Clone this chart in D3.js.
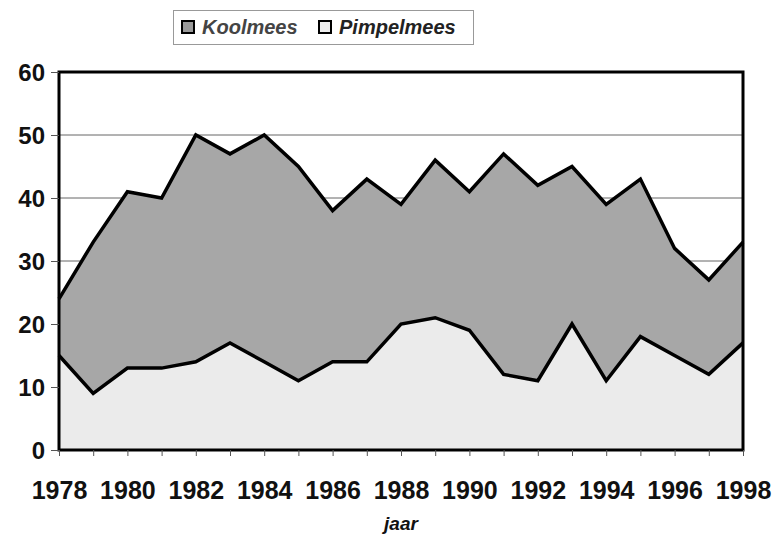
<!DOCTYPE html>
<html>
<head>
<meta charset="utf-8">
<script src="https://cdn.jsdelivr.net/npm/d3@7"></script>
<style>
    body { margin: 0; background: #fff; }
    text { font-family: "Liberation Sans", Arial, sans-serif; }
</style>
</head>
<body>
<div class="chart"></div>
<script>
let svgWidth = 774;
let svgHeight = 535;

let margin = { top: 72, right: 31, bottom: 85, left: 59 };

let width = svgWidth - margin.left - margin.right;
let height = svgHeight - margin.top - margin.bottom;

// data
let years = [1978, 1979, 1980, 1981, 1982, 1983, 1984, 1985, 1986, 1987, 1988,
    1989, 1990, 1991, 1992, 1993, 1994, 1995, 1996, 1997, 1998];
let koolmees = [24, 33, 41, 40, 50, 47, 50, 45, 38, 43, 39,
    46, 41, 47, 42, 45, 39, 43, 32, 27, 33];
let pimpelmees = [15, 9, 13, 13, 14, 17, 14, 11, 14, 14, 20,
    21, 19, 12, 11, 20, 11, 18, 15, 12, 17];
let yTicks = [0, 10, 20, 30, 40, 50, 60];
let xLabels = [1978, 1980, 1982, 1984, 1986, 1988, 1990, 1992, 1994, 1996, 1998];

let svg = d3.select(".chart")
    .append("svg")
    .attr("width", svgWidth)
    .attr("height", svgHeight);

let chartGroup = svg.append("g")
    .attr("transform", `translate(${margin.left}, ${margin.top})`);

let xScale = d3.scaleLinear()
    .domain([1978, 1998])
    .range([0, width]);

let yScale = d3.scaleLinear()
    .domain([0, 60])
    .range([height, 0]);

// gridlines
chartGroup.selectAll(".grid")
    .data(yTicks.slice(1, -1))
    .enter()
    .append("line")
    .attr("x1", 0)
    .attr("x2", width)
    .attr("y1", d => yScale(d))
    .attr("y2", d => yScale(d))
    .attr("stroke", "#666")
    .attr("stroke-width", 1);

let area = series => d3.area()
    .x((d, i) => xScale(years[i]))
    .y0(yScale(0))
    .y1(d => yScale(d))(series);

let line = series => d3.line()
    .x((d, i) => xScale(years[i]))
    .y(d => yScale(d))(series);

chartGroup.append("path")
    .attr("d", area(koolmees))
    .attr("fill", "#a7a7a7");

chartGroup.append("path")
    .attr("d", area(pimpelmees))
    .attr("fill", "#ebebeb");

chartGroup.append("path")
    .attr("d", line(koolmees))
    .attr("fill", "none")
    .attr("stroke", "#000")
    .attr("stroke-width", 3.5);

chartGroup.append("path")
    .attr("d", line(pimpelmees))
    .attr("fill", "none")
    .attr("stroke", "#000")
    .attr("stroke-width", 3.5);

// plot border
chartGroup.append("rect")
    .attr("x", 0)
    .attr("y", 0)
    .attr("width", width)
    .attr("height", height)
    .attr("fill", "none")
    .attr("stroke", "#000")
    .attr("stroke-width", 3);

// axes
let leftAxis = d3.axisLeft(yScale)
    .tickValues(yTicks)
    .tickSize(8)
    .tickPadding(6);

let yAxis = chartGroup.append("g").call(leftAxis);
yAxis.select(".domain").remove();
yAxis.selectAll("line").attr("stroke", "#555");
yAxis.selectAll("text")
    .attr("font-size", 24)
    .attr("font-weight", "bold")
    .attr("fill", "#111")
    .attr("dy", "0.36em");

let bottomAxis = d3.axisBottom(xScale)
    .tickValues(years)
    .tickSize(6)
    .tickFormat(d => xLabels.includes(d) ? d : "")
    .tickPadding(25);

let xAxis = chartGroup.append("g")
    .attr("transform", `translate(0, ${height})`)
    .call(bottomAxis);
xAxis.select(".domain").remove();
xAxis.selectAll("line").attr("stroke", "#555");
xAxis.selectAll("text")
    .attr("font-size", 25)
    .attr("font-weight", "bold")
    .attr("fill", "#111");

// x-axis title
svg.append("text")
    .attr("x", 401)
    .attr("y", 530)
    .attr("text-anchor", "middle")
    .attr("font-size", 19)
    .attr("font-weight", "bold")
    .attr("font-style", "italic")
    .attr("fill", "#111")
    .text("jaar");

// legend
let legend = svg.append("g");
legend.append("rect")
    .attr("x", 173.5)
    .attr("y", 10.5)
    .attr("width", 300)
    .attr("height", 34)
    .attr("fill", "#fff")
    .attr("stroke", "#999")
    .attr("stroke-width", 1);

let legendItems = [
    { name: "Koolmees", fill: "#9a9a9a", x: 182 },
    { name: "Pimpelmees", fill: "#eeeeee", x: 319 }
];

legend.selectAll(".swatch")
    .data(legendItems)
    .enter()
    .append("rect")
    .attr("x", d => d.x)
    .attr("y", 21)
    .attr("width", 12)
    .attr("height", 12)
    .attr("fill", d => d.fill)
    .attr("stroke", "#000")
    .attr("stroke-width", 2);

legend.selectAll(".label")
    .data(legendItems)
    .enter()
    .append("text")
    .attr("x", d => d.x + 20)
    .attr("y", 34)
    .attr("font-size", 20)
    .attr("font-weight", "bold")
    .attr("font-style", "italic")
    .attr("fill", d => d.name === "Koolmees" ? "#444" : "#222")
    .text(d => d.name);
</script>
</body>
</html>
